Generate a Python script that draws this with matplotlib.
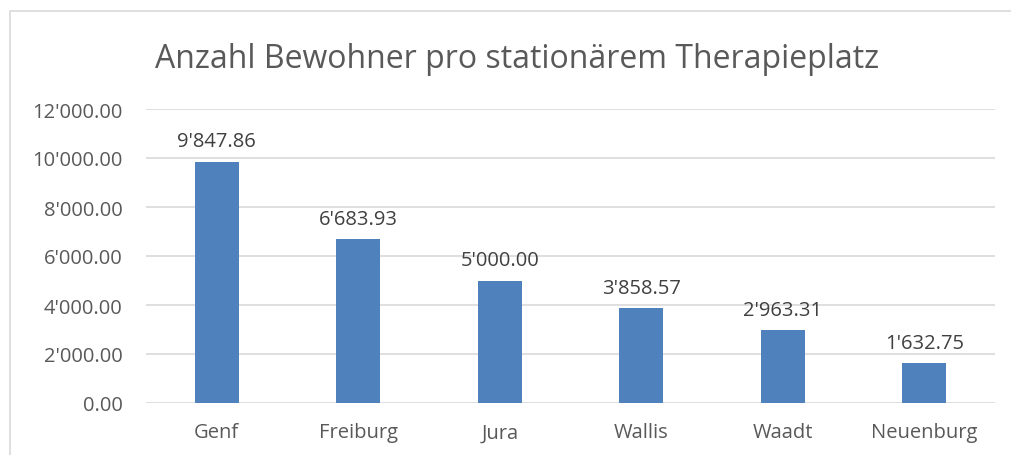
import matplotlib.pyplot as plt
from matplotlib.patches import Rectangle

cantons = ["Genf", "Freiburg", "Jura", "Wallis", "Waadt", "Neuenburg"]
residents_per_place = [9847.86, 6683.93, 5000.00, 3858.57, 2963.31, 1632.75]
yticks = [0, 2000, 4000, 6000, 8000, 10000, 12000]


def swiss(v):
    return "{:,.2f}".format(v).replace(",", "'")


plt.rcParams['font.family'] = ['Open Sans', 'DejaVu Sans']
txt = "#595959"
grid = "#d9d9d9"

fig = plt.figure(figsize=(10.12, 4.56), dpi=100)
fig.patches.append(Rectangle((10 / 1012, -0.1), 1.2, 1 - 12 / 456 + 0.1,
                             transform=fig.transFigure, fill=False,
                             edgecolor=grid, lw=1.2))
ax = fig.add_axes([146 / 1012, 1 - 404 / 456, 849 / 1012, 294 / 456])

x = range(len(cantons))
ax.bar(x, residents_per_place, width=0.31, color="#4f81bd", zorder=3)
for i, v in zip(x, residents_per_place):
    ax.text(i, v + 420, swiss(v), ha="center", va="bottom", fontsize=14.5, color="#404040")

ax.set_xlim(-0.5, len(cantons) - 0.5)
ax.set_ylim(0, 12000)
ax.set_yticks(yticks)
ax.set_yticklabels([swiss(v) for v in yticks])
ax.set_xticks(list(x))
ax.set_xticklabels(cantons)
ax.tick_params(length=0, colors=txt, labelsize=14.5)
ax.tick_params(axis="y", pad=17)
ax.tick_params(axis="x", pad=14)
ax.grid(axis="y", color=grid, lw=1.2, zorder=0)
for s in ax.spines.values():
    s.set_visible(False)

fig.text(517 / 1012, 1 - 60 / 456, "Anzahl Bewohner pro stationärem Therapieplatz",
         ha="center", va="center", fontsize=23, color=txt)

fig.savefig("out.png", dpi=100)
